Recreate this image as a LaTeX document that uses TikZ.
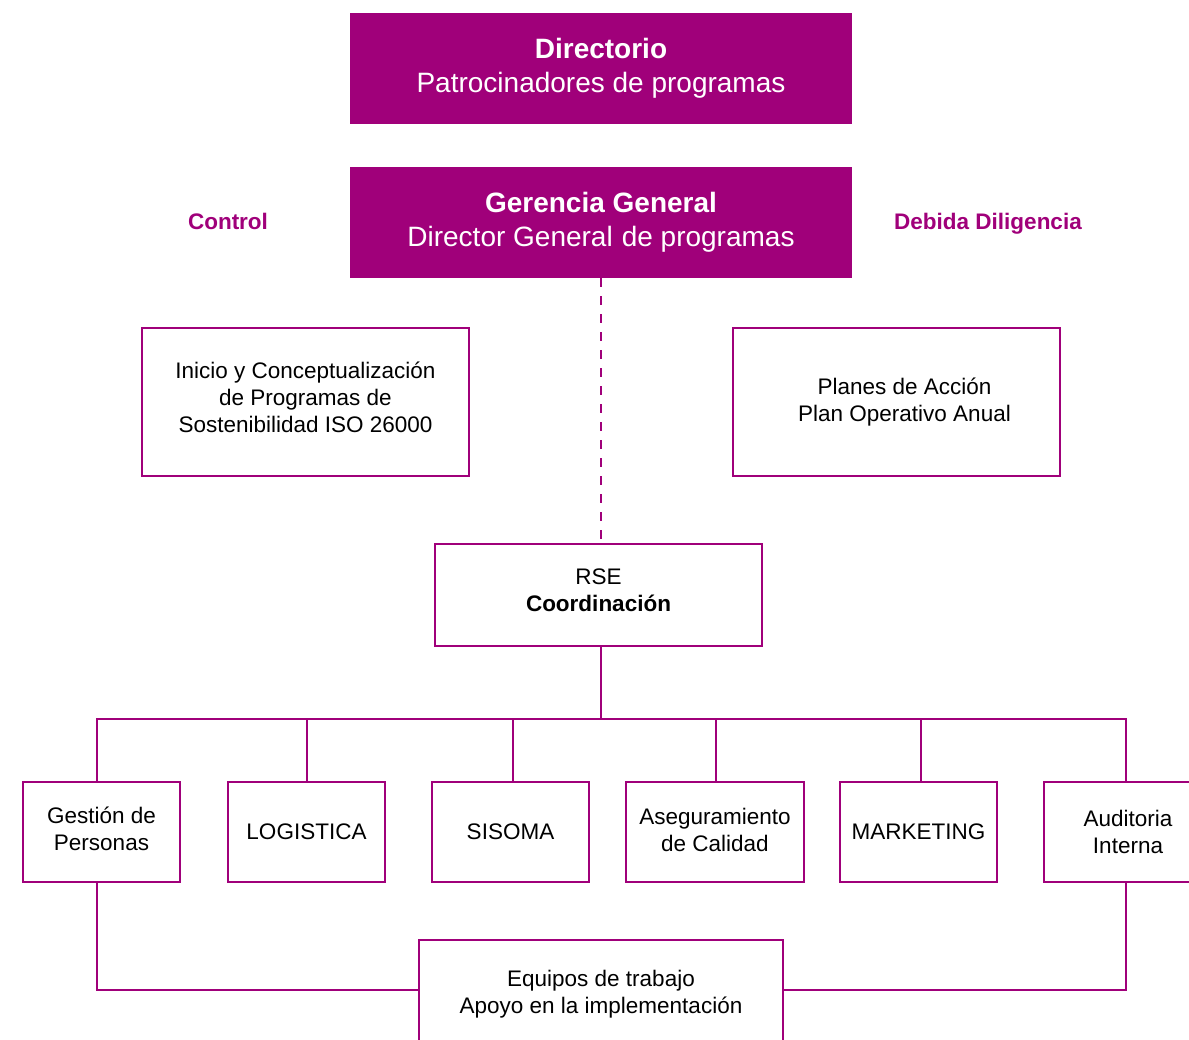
\documentclass[tikz,border=0pt]{standalone}
\usepackage{fontspec}
\setmainfont{Liberation Sans}
\definecolor{rsemagenta}{RGB}{160,0,122}
\tikzset{
    headbox/.style={rectangle,fill=rsemagenta,text=white,align=center,minimum width=502pt,minimum height=111pt,inner sep=0pt,font=\fontsize{28}{34}\selectfont},
    unitbox/.style={rectangle,draw=rsemagenta,line width=2.8pt,fill=white,align=center,inner sep=0pt,font=\fontsize{22.5}{27}\selectfont},
    sidelabel/.style={text=rsemagenta,anchor=base,font=\fontsize{22.5}{27}\selectfont\bfseries},
    link/.style={draw=rsemagenta,line width=2.8pt}
}

\begin{document}
\begin{tikzpicture}[x=1pt,y=-1pt]
    \useasboundingbox (0,0) rectangle (1189,1040);
    \clip (0,0) rectangle (1189,1040);

        % direccion
        \node[headbox] (dir) at (601,68.5) {\textbf{Directorio}\\Patrocinadores de programas};
        \node[headbox] (gg) at (601,222.5) {\textbf{Gerencia General}\\Director General\hspace{9pt}de programas};
        \node[sidelabel] (control) at (228,230) {Control};
        \node[sidelabel] (diligencia) at (988,230) {Debida Diligencia};

        \begin{scope}[every node/.style={unitbox}]
            \node[minimum width=327pt,minimum height=148pt] (inicio) at (305.5,402) {Inicio y Conceptualización\\de Programas de\\Sostenibilidad ISO 26000\\[-18pt]};
            \node[minimum width=327pt,minimum height=148pt] (planes) at (896.5,402) {\hspace*{16pt}Planes de Acción\\\hspace*{16pt}Plan Operativo Anual};
            \node[minimum width=327pt,minimum height=102pt] (rse) at (598.5,595) {RSE\\\textbf{Coordinación}\\[-18pt]};

            \node[minimum width=157pt,minimum height=100pt] (gp) at (101.5,832) {Gestión de\\Personas\\[-21pt]};
            \node[minimum width=157pt,minimum height=100pt] (log) at (306.5,832) {LOGISTICA};
            \node[minimum width=157pt,minimum height=100pt] (sis) at (510.5,832) {SISOMA};
            \node[minimum width=178pt,minimum height=100pt] (ase) at (715,832) {Aseguramiento\\de Calidad\\[-22pt]};
            \node[minimum width=157pt,minimum height=100pt] (mkt) at (918.5,832) {MARKETING};
            \node[minimum width=164pt,minimum height=100pt] (aud) at (1126,832) {\hspace*{4pt}Auditoria\\\hspace*{4pt}Interna};

            \node[minimum width=364pt,minimum height=109pt] (eq) at (601,994.5) {Equipos de trabajo\\Apoyo en la implementación};
        \end{scope}

        % conectores
        \coordinate (bus) at (601,719);
        \draw[link,line width=2pt,dash pattern=on 9pt off 9pt] (gg.south) -- (gg.south |- rse.north);
        \draw[link] (bus |- rse.south) -- (bus);
        \foreach \u/\dx in {gp/-4.5,log/0.5,sis/2.5,ase/1,mkt/2.5,aud/0}
            \draw[link] ([xshift=\dx pt]\u.north) |- (bus);
        \draw[link] ([xshift=-4.5pt]gp.south) |- ([yshift=4.5pt]eq.west);
        \draw[link] (aud.south) |- ([yshift=4.5pt]eq.east);

\end{tikzpicture}
\end{document}
